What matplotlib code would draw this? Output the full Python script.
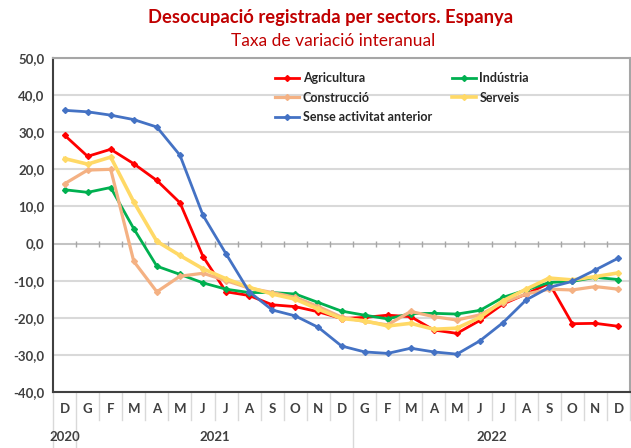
import matplotlib
matplotlib.use("Agg")
import matplotlib.pyplot as plt
from matplotlib.ticker import FuncFormatter

months = ['D', 'G', 'F', 'M', 'A', 'M', 'J', 'J', 'A', 'S', 'O', 'N',
          'D', 'G', 'F', 'M', 'A', 'M', 'J', 'J', 'A', 'S', 'O', 'N', 'D']
years = ['2020', '2021', '2022']
year_pos = [0, 6.5, 18.5]

agricultura = [29.2, 23.5, 25.4, 21.5, 17.0, 11.0, -3.5, -13.0, -14.0, -16.5, -17.0, -18.4,
               -20.2, -19.9, -19.3, -19.7, -23.3, -24.2, -20.7, -16.3, -13.6, -10.7, -21.6, -21.5, -22.3]
industria = [14.5, 13.8, 15.1, 4.0, -6.1, -8.3, -10.6, -12.3, -13.2, -13.2, -13.6, -15.9,
             -18.2, -19.3, -20.3, -18.9, -18.8, -19.0, -18.0, -14.5, -12.5, -10.5, -10.2, -9.1, -9.7]
construccio = [16.1, 19.8, 20.0, -4.8, -13.0, -8.8, -8.0, -10.0, -12.0, -13.2, -14.5, -17.0,
               -19.8, -21.0, -21.9, -18.3, -19.7, -20.6, -19.2, -15.9, -13.6, -12.3, -12.5, -11.6, -12.3]
serveis = [22.9, 21.4, 23.3, 11.2, 0.6, -3.2, -6.8, -9.5, -11.8, -13.6, -15.0, -17.7,
           -20.2, -20.8, -22.2, -21.5, -23.1, -22.8, -19.9, -15.4, -12.3, -9.3, -9.8, -8.9, -7.9]
sense = [35.9, 35.5, 34.6, 33.4, 31.4, 23.8, 7.6, -2.8, -13.0, -17.9, -19.5, -22.6,
         -27.6, -29.2, -29.6, -28.2, -29.2, -29.8, -26.2, -21.3, -15.2, -11.8, -10.2, -7.1, -3.9]

plt.rcParams['font.family'] = ['Lato', 'DejaVu Sans']

fig = plt.figure(figsize=(6.31, 4.48), dpi=100)
ax = fig.add_axes([53 / 631, 1 - 392 / 448, 577 / 631, 334 / 448])

x = list(range(len(months)))
series = [
    ('Agricultura', agricultura, '#FF0000', 2.0),
    ('Indústria', industria, '#00B050', 2.0),
    ('Construcció', construccio, '#F4B183', 2.3),
    ('Serveis', serveis, '#FFD966', 2.6),
    ('Sense activitat anterior', sense, '#4472C4', 2.0),
]
lines = {}
for name, vals, col, lw in series:
    ln, = ax.plot(x, vals, color=col, lw=lw, marker='D', ms=3, mec=col, mfc=col, label=name)
    lines[name] = ln

ax.set_xlim(-0.5, 24.5)
ax.set_ylim(-40, 50)
ax.set_yticks(range(-40, 51, 10))
ax.yaxis.set_major_formatter(FuncFormatter(lambda v, p: f'{v:.1f}'.replace('.', ',')))
ax.tick_params(axis='y', length=0, pad=6, labelsize=9.5, labelcolor='#404040')
for lab in ax.get_yticklabels():
    lab.set_fontweight('bold')
ax.grid(axis='y', color='#D9D9D9', lw=1.5)
ax.set_axisbelow(True)

# zero line with category tick marks
ax.axhline(0, color='#BFBFBF', lw=1.2, zorder=1)
ax.plot([i + 0.5 for i in x[:-1]], [0] * (len(x) - 1), ls='none', marker='|',
        ms=5, color='#A6A6A6', zorder=1)

ax.set_xticks(x)
ax.set_xticklabels(months, fontweight='bold', fontsize=9.5, color='#404040')
ax.tick_params(axis='x', length=0, pad=8)

for s in ['left', 'bottom']:
    ax.spines[s].set_color('#404040')
    ax.spines[s].set_linewidth(1.5)
for s in ['top', 'right']:
    ax.spines[s].set_color('#A6A6A6')
    ax.spines[s].set_linewidth(1.5)

# category separators below the axis
trans = ax.get_xaxis_transform()
for i in range(len(x) + 1):
    xv = i - 0.5
    long_line = xv in (-0.5, 0.5, 12.5)
    ax.plot([xv, xv], [0, -0.168 if long_line else -0.084], transform=trans,
            color='#D9D9D9', lw=1, clip_on=False)
for yr, pos in zip(years, year_pos):
    ax.text(pos, -0.135, yr, transform=trans, ha='center', va='center',
            fontsize=9.5, fontweight='bold', color='#404040')

order = ['Agricultura', 'Construcció', 'Sense activitat anterior', 'Indústria', 'Serveis']
leg = ax.legend([lines[n] for n in order], order, ncol=2, loc='upper left',
                bbox_to_anchor=(0.385, 0.957), frameon=False, fontsize=9,
                handlelength=1.9, handletextpad=0.3, labelspacing=0.6,
                columnspacing=1.6, borderpad=0, borderaxespad=0)
for t in leg.get_texts():
    t.set_fontweight('bold')
    t.set_color('#262626')

fig.text(331 / 631, 1 - 17 / 448, 'Desocupació registrada per sectors. Espanya',
         ha='center', va='center', fontsize=13.2, fontweight='bold', color='#C00000')
fig.text(333 / 631, 1 - 41 / 448, 'Taxa de variació interanual',
         ha='center', va='center', fontsize=12.5, color='#C00000')

fig.savefig('out.png', dpi=100)
